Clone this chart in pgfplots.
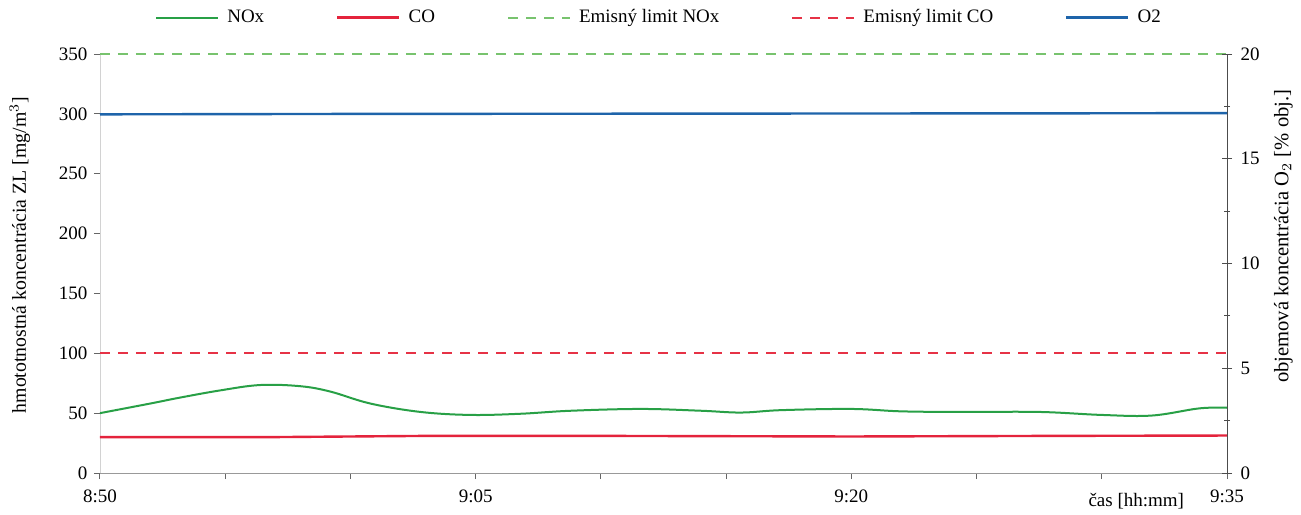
\documentclass[border=0pt]{standalone}
\usepackage{pgfplots}
\pgfplotsset{compat=1.18}
\usepackage{fontspec}
\setmainfont{Liberation Serif}
\definecolor{noxc}{RGB}{40,160,70}
\definecolor{coc}{RGB}{228,35,60}
\definecolor{noxl}{RGB}{120,195,110}
\definecolor{col}{RGB}{230,50,70}
\definecolor{o2c}{RGB}{30,100,170}
\begin{document}
\fontsize{9.5}{11}\selectfont
\begin{tikzpicture}
\begin{axis}[
  at={(0,0)}, anchor=south west,
  scale only axis, width=563.5pt, height=209.5pt,
  xmin=0, xmax=45, ymin=0, ymax=350,
  axis x line*=bottom, axis y line*=left,
  x axis line style={-, draw=gray!80},
  y axis line style={-, draw=gray!35},
  xtick={0,15,30,45}, xticklabels={8:50,9:05,9:20,9:35},
  minor xtick={5,10,20,25,35,40},
  ytick={0,50,...,350},
  tick align=outside,
  major tick length=3pt, minor tick length=3pt,
  every tick/.style={gray!80!black, line width=0.5pt},
  xticklabel style={yshift=-2.2pt},
  /pgf/number format/assume math mode=true,
  ylabel={hmototnostná koncentrácia ZL [mg/m$^3$]},
  ylabel style={at={(axis description cs:-0.071,0.52)}, anchor=center, font=\fontsize{9.9}{11}\selectfont},
  legend columns=5,
  legend style={at={(axis description cs:0.497,1.087)}, anchor=center, draw=none, fill=none,
    /tikz/every even column/.append style={column sep=34pt},
    /tikz/every odd column/.append style={column sep=2pt}},
  legend image code/.code={\draw[#1] (0pt,0pt) -- (31pt,0pt);},
  clip=false,
]
\addplot[noxc, line width=1pt, smooth, tension=0.6] coordinates {
(0,50) (2,58) (3.2,63) (4.8,69) (6.4,73.5) (8,72.5) (9.2,68) (10.8,58) (12.8,51)
(14.8,48.5) (16.8,49.5) (18.8,52) (21.6,53.5) (24,52) (25.6,50.5) (27.2,52.5)
(30,53.5) (32,51.5) (34.3,51) (37.5,51) (40,48.5) (42,48) (43.9,54) (45,54.5)};
\addlegendentry{NOx}
\addplot[coc, line width=1.2pt] coordinates {
(0,30) (7,30) (10,30.5) (13,31) (20,31) (30,30.5) (38,31) (45,31.3)};
\addlegendentry{CO}
\addplot[noxl, line width=1pt, dash pattern=on 5pt off 4pt] coordinates {(0,350) (45,350)};
\addlegendentry{Emisný limit NOx}
\addplot[col, line width=1pt, dash pattern=on 5pt off 4pt] coordinates {(0,100) (45,100)};
\addlegendentry{Emisný limit CO}
\addlegendimage{o2c, line width=1.2pt}
\addlegendentry{O2}
\node[anchor=north east, inner sep=0pt] at (axis cs:43.3,-17) {čas [hh:mm]};
\end{axis}
\begin{axis}[
  at={(0,0)}, anchor=south west,
  scale only axis, width=563.5pt, height=209.5pt,
  xmin=0, xmax=45, ymin=0, ymax=20,
  axis x line=none, axis y line*=right,
  y axis line style={-, draw=gray!60!black},
  ytick={0,5,10,15,20}, minor ytick={2.5,7.5,12.5,17.5},
  tick align=center,
  major tick length=5pt, minor tick length=3pt,
  every tick/.style={gray!60!black, line width=0.5pt},
  yticklabel style={xshift=1pt},
  /pgf/number format/assume math mode=true,
  ylabel={objemová koncentrácia O$_2$ [\% obj.]},
  ylabel style={at={(axis description cs:1.05,0.565)}, anchor=center, rotate=0, font=\fontsize{10.3}{11}\selectfont},
]
\addplot[o2c, line width=1.2pt] coordinates {
(0,17.12) (10,17.14) (20,17.15) (30,17.16) (40,17.17) (45,17.18)};
\end{axis}
\pgfresetboundingbox
\path (-50pt,-20.5pt) rectangle (600.5pt,236.5pt);
\end{tikzpicture}
\end{document}
